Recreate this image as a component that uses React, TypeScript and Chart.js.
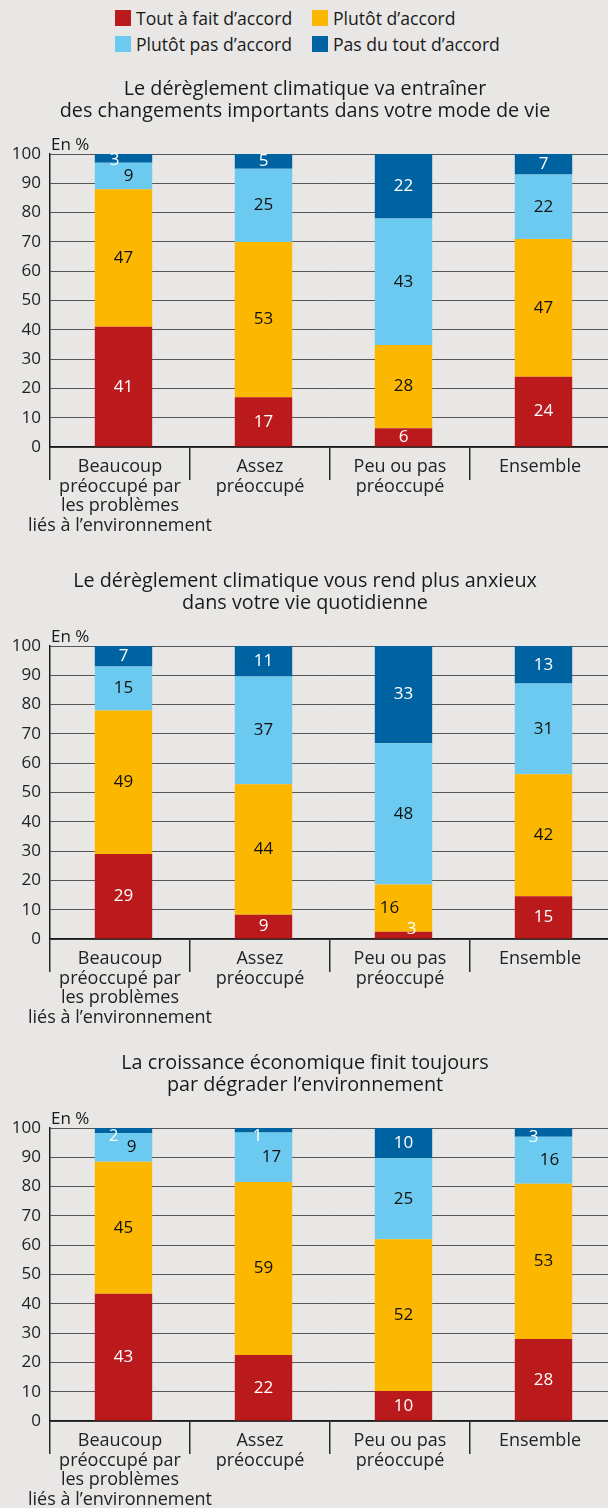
import React, { useEffect, useRef } from "react";
import { Chart, registerables } from "chart.js";

Chart.register(...registerables);

// ---------- data ----------
const seriesNames = ["Tout à fait d’accord", "Plutôt d’accord", "Plutôt pas d’accord", "Pas du tout d’accord"];
const categories = [
  ["Beaucoup", "préoccupé par", "les problèmes", "liés à l’environnement"],
  ["Assez", "préoccupé"],
  ["Peu ou pas", "préoccupé"],
  ["Ensemble"],
];
const yTicks = [0, 10, 20, 30, 40, 50, 60, 70, 80, 90, 100];

const title1 = ["Le dérèglement climatique va entraîner", "des changements importants dans votre mode de vie"];
const title2 = ["Le dérèglement climatique vous rend plus anxieux", "dans votre vie quotidienne"];
const title3 = ["La croissance économique finit toujours", "par dégrader l’environnement"];

// segment sizes (%), and the printed labels
const c1Tout = [41, 17, 6.4, 24];
const c1Plutot = [47, 53, 28.4, 47];
const c1PlutotPas = [9, 25, 43.2, 22];
const c1PasDuTout = [3, 5, 22, 7];
const c1ToutLbl = [41, 17, 6, 24];
const c1PlutotLbl = [47, 53, 28, 47];
const c1PlutotPasLbl = [9, 25, 43, 22];
const c1PasDuToutLbl = [3, 5, 22, 7];

const c2Tout = [29, 8.3, 2.5, 14.6];
const c2Plutot = [49, 44.5, 16.1, 41.6];
const c2PlutotPas = [15, 36.8, 48.2, 31];
const c2PasDuTout = [7, 10.4, 33.2, 12.8];
const c2ToutLbl = [29, 9, 3, 15];
const c2PlutotLbl = [49, 44, 16, 42];
const c2PlutotPasLbl = [15, 37, 48, 31];
const c2PasDuToutLbl = [7, 11, 33, 13];

const c3Tout = [43.4, 22.5, 10.2, 28];
const c3Plutot = [45.1, 59.1, 51.8, 53];
const c3PlutotPas = [9.7, 16.9, 27.7, 16];
const c3PasDuTout = [1.8, 1.5, 10.3, 3];
const c3ToutLbl = [43, 22, 10, 28];
const c3PlutotLbl = [45, 59, 52, 53];
const c3PlutotPasLbl = [9, 17, 25, 16];
const c3PasDuToutLbl = [2, 1, 10, 3];

// ---------- styles ----------
const FONT = "'Open Sans', 'Noto Sans', sans-serif";
const BG = "#e8e7e5";
const COLORS = ["#bb1a1d", "#fcb700", "#6ccaf0", "#0063a1"];
const LABEL_COLORS = ["#ffffff", "#111111", "#111111", "#ffffff"];
// bars sit slightly right of the category centres in the original layout
const BAR_SHIFT = 0.025;

type Offsets = Record<string, [number, number]>;
const off1: Offsets = { "3-0": [-9, 2], "2-0": [5, 0] };
const off2: Offsets = { "1-2": [-14, 0], "0-2": [8, -6] };
const off3: Offsets = {
  "3-0": [-10, 6], "2-0": [8, 0],
  "3-1": [-6, 6], "2-1": [8, 0],
  "3-3": [-10, 5], "2-3": [6, 0],
};

const valueLabelPlugin = {
  id: "valueLabels",
  afterDatasetsDraw(chart: any, _args: any, opts: any) {
    const ctx = chart.ctx;
    const labels: number[][] = opts.labels;
    const offsets: Offsets = opts.offsets || {};
    ctx.save();
    ctx.font = `17px ${FONT}`;
    ctx.textAlign = "center";
    ctx.textBaseline = "middle";
    chart.data.datasets.forEach((_ds: any, di: number) => {
      const meta = chart.getDatasetMeta(di);
      meta.data.forEach((el: any, i: number) => {
        const o = offsets[`${di}-${i}`] || [0, 0];
        ctx.fillStyle = LABEL_COLORS[di];
        ctx.fillText(String(labels[di][i]), el.x + o[0], (el.y + el.base) / 2 + o[1]);
      });
    });
    ctx.font = `17px ${FONT}`;
    ctx.textAlign = "left";
    ctx.fillStyle = "#1a1a1a";
    ctx.fillText("En %", chart.chartArea.left + 1, chart.chartArea.top - 9);
    ctx.restore();
  },
};

function StackChart(props: { top: number; title: string[]; values: number[][]; labels: number[][]; offsets: Offsets }) {
  const ref = useRef<HTMLCanvasElement | null>(null);
  useEffect(() => {
    if (!ref.current) return;
    const chart = new Chart(ref.current, {
      type: "bar",
      data: {
        labels: categories,
        datasets: props.values.map((v, i) => ({
          label: seriesNames[i],
          data: v.map((y, k) => ({ x: k, y })),
          xAxisID: "xb",
          backgroundColor: COLORS[i],
          borderWidth: 0,
          barPercentage: 0.41,
          categoryPercentage: 1,
        })),
      },
      options: {
        animation: false,
        responsive: false,
        layout: { padding: 0 },
        plugins: {
          legend: { display: false },
          tooltip: { enabled: false },
          title: {
            display: true,
            text: props.title,
            color: "#1a1a1a",
            font: { family: FONT, size: 19.8, weight: "normal", lineHeight: 22 / 19.8 },
            padding: { top: 8, bottom: 32 },
          },
          valueLabels: { labels: props.labels, offsets: props.offsets },
        } as any,
        scales: {
          x: {
            type: "category",
            grid: { offset: true, drawOnChartArea: false, drawTicks: true, tickLength: 33, color: "#2a2a2a", lineWidth: 1.5 },
            border: { display: true, color: "#1a1a1a", width: 1.5 },
            ticks: {
              padding: -23,
              color: "#222",
              autoSkip: false,
              maxRotation: 0,
              font: { family: FONT, size: 18, lineHeight: 19.7 / 18 },
            },
            afterFit: (s: any) => { s.height = 90; },
          },
          xb: {
            type: "linear",
            display: false,
            stacked: true,
            offset: false,
            min: -0.5 - BAR_SHIFT,
            max: categories.length - 0.5 - BAR_SHIFT,
            afterBuildTicks: (s: any) => { s.ticks = categories.map((_c, k) => ({ value: k })); },
          },
          y: {
            stacked: true,
            min: 0,
            max: 100,
            afterBuildTicks: (s: any) => { s.ticks = yTicks.map((v) => ({ value: v })); },
            ticks: { padding: 9, color: "#222", font: { family: FONT, size: 17 } },
            grid: { color: "#555", lineWidth: 1, drawTicks: false },
            border: { display: true, color: "#1a1a1a", width: 1.5 },
            afterFit: (s: any) => { s.width = 50; },
          },
        },
      } as any,
      plugins: [valueLabelPlugin],
    });
    return () => chart.destroy();
  }, []);
  return (
    <div style={{ position: "absolute", left: 0, top: props.top, width: 610, height: 467 }}>
      <canvas ref={ref} width={610} height={467} style={{ width: 610, height: 467, display: "block" }} />
    </div>
  );
}

function LegendItem(props: { color: string; text: string; left: number; top: number }) {
  return (
    <div style={{ position: "absolute", left: props.left, top: props.top, display: "flex", alignItems: "center", whiteSpace: "nowrap" }}>
      <span style={{ display: "inline-block", width: 16, height: 16, background: props.color, marginRight: 5 }} />
      <span style={{ fontFamily: FONT, fontSize: 17.6, color: "#1a1a1a", lineHeight: "20px" }}>{props.text}</span>
    </div>
  );
}

export default function App() {
  return (
    <div style={{ position: "absolute", left: 0, top: 0, width: 608, height: 1508, background: BG, overflow: "hidden" }}>
      <LegendItem color={COLORS[0]} text={seriesNames[0]} left={115} top={8} />
      <LegendItem color={COLORS[1]} text={seriesNames[1]} left={312} top={8} />
      <LegendItem color={COLORS[2]} text={seriesNames[2]} left={115} top={34} />
      <LegendItem color={COLORS[3]} text={seriesNames[3]} left={312} top={34} />
      <StackChart
        top={70}
        title={title1}
        values={[c1Tout, c1Plutot, c1PlutotPas, c1PasDuTout]}
        labels={[c1ToutLbl, c1PlutotLbl, c1PlutotPasLbl, c1PasDuToutLbl]}
        offsets={off1}
      />
      <StackChart
        top={562}
        title={title2}
        values={[c2Tout, c2Plutot, c2PlutotPas, c2PasDuTout]}
        labels={[c2ToutLbl, c2PlutotLbl, c2PlutotPasLbl, c2PasDuToutLbl]}
        offsets={off2}
      />
      <StackChart
        top={1044}
        title={title3}
        values={[c3Tout, c3Plutot, c3PlutotPas, c3PasDuTout]}
        labels={[c3ToutLbl, c3PlutotLbl, c3PlutotPasLbl, c3PasDuToutLbl]}
        offsets={off3}
      />
    </div>
  );
}
